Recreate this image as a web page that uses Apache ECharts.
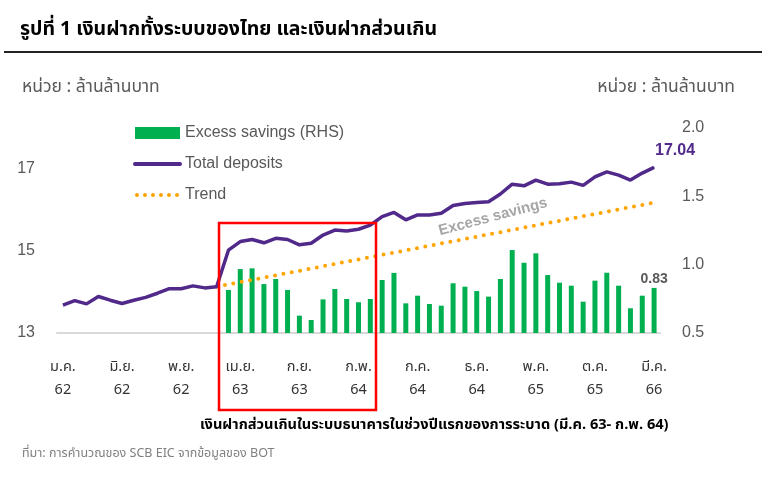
<!DOCTYPE html>
<html>
<head>
<meta charset="utf-8">
<script src="https://cdn.jsdelivr.net/npm/echarts@6/dist/echarts.min.js"></script>
<style>
html,body{margin:0;padding:0;background:#fff;}
#c{width:766px;height:479px;}
</style>
</head>
<body>
<div id="c"></div>
<script>
// Tick labels
var monthNames = ['ม.ค.','ก.พ.','มี.ค.','เม.ย.','พ.ค.','มิ.ย.','ก.ค.','ส.ค.','ก.ย.','ต.ค.','พ.ย.','ธ.ค.'];
var yearLabels = ['62','63','64','65','66'];
var lastYearMonths = 3; // data ends มี.ค. 66

// Total deposits (ล้านล้านบาท), monthly ม.ค. 62 – มี.ค. 66
var totalDeposits = [
  13.68, 13.79, 13.71, 13.89, 13.80, 13.72, 13.80, 13.87, 13.97, 14.08, 14.08, 14.15,
  14.10, 14.13, 15.02, 15.23, 15.28, 15.20, 15.31, 15.28, 15.15, 15.19, 15.39, 15.51,
  15.49, 15.53, 15.63, 15.84, 15.94, 15.76, 15.88, 15.88, 15.92, 16.11, 16.16, 16.18,
  16.20, 16.39, 16.63, 16.59, 16.73, 16.63, 16.64, 16.68, 16.60, 16.81, 16.93, 16.85,
  16.73, 16.90, 17.04
];

// Excess savings (RHS), from มี.ค. 63
var excessSavings = [
  null, null, null, null, null, null, null, null, null, null, null, null,
  null, null, 0.815, 0.968, 0.973, 0.858, 0.895, 0.815, 0.627, 0.595, 0.746, 0.822,
  0.749, 0.725, 0.749, 0.888, 0.940, 0.717, 0.773, 0.712, 0.700, 0.864, 0.839, 0.807,
  0.766, 0.895, 1.107, 1.014, 1.083, 0.924, 0.868, 0.846, 0.729, 0.883, 0.941, 0.846,
  0.681, 0.773, 0.83
];

// Trend line endpoints (ก.พ. 63 and มี.ค. 66)
var trend = [
  null, null, null, null, null, null, null, null, null, null, null, null,
  null, 14.13, null, null, null, null, null, null, null, null, null, null,
  null, null, null, null, null, null, null, null, null, null, null, null,
  null, null, null, null, null, null, null, null, null, null, null, null,
  null, null, 16.18
];

var categories = [];
yearLabels.forEach(function (y, yi) {
  var n = (yi === yearLabels.length - 1) ? lastYearMonths : 12;
  for (var m = 0; m < n; m++) categories.push(monthNames[m] + '\n' + y);
});

var thaiFont = "Tahoma, 'Noto Sans Thai', 'Liberation Sans', sans-serif";
var latinFont = "'Liberation Sans', Arial, sans-serif";
var PURPLE = '#50298A';
var GREEN = '#00B050';
var ORANGE = '#FFA500';

var lastIdx = totalDeposits.length - 1;
var depData = totalDeposits.map(function (v, i) {
  if (i === lastIdx) {
    return { value: v, symbol: 'circle', symbolSize: 1,
      label: { show: true, position: 'top', distance: 8, offset: [21, 0],
        formatter: function (p) { return Number(p.value).toFixed(2); },
        color: PURPLE, fontWeight: 'bold', fontSize: 16, fontFamily: latinFont } };
  }
  return v;
});
var exData = excessSavings.map(function (v, i) {
  if (i === lastIdx) {
    return { value: v, label: { show: true, position: 'top', distance: 2,
      formatter: function (p) { return Number(p.value).toFixed(2); },
      color: '#595959', fontWeight: 'bold', fontSize: 14, fontFamily: latinFont } };
  }
  return v;
});

var chart = echarts.init(document.getElementById('c'), null, { renderer: 'canvas' });
chart.setOption({
  animation: false,
  backgroundColor: '#ffffff',
  grid: { left: 57, right: 106, top: 128, bottom: 146, containLabel: false },
  legend: {
    orient: 'vertical', left: 133, top: 124, padding: 0, itemWidth: 45, itemHeight: 12, itemGap: 13,
    textStyle: { color: '#595959', fontSize: 16, fontFamily: latinFont, lineHeight: 18 },
    data: [
      { name: 'Excess savings (RHS)', icon: 'rect' },
      { name: 'Total deposits', itemStyle: { opacity: 0 },
        lineStyle: { color: PURPLE, width: 4, type: 'solid', cap: 'round' } },
      { name: 'Trend', itemStyle: { opacity: 0 },
        lineStyle: { color: ORANGE, width: 4, type: [0, 8], cap: 'round', dashOffset: -2 } }
    ]
  },
  xAxis: {
    type: 'category', data: categories, boundaryGap: true,
    axisLine: { show: true, lineStyle: { color: '#D9D9D9', width: 2 } },
    axisTick: { show: false },
    axisLabel: { interval: 4, color: '#333333', fontSize: 14.5, fontFamily: thaiFont, lineHeight: 23, margin: 24 }
  },
  yAxis: [
    { type: 'value', min: 13, max: 18, interval: 2, position: 'left',
      axisLine: { show: false }, axisTick: { show: false }, splitLine: { show: false },
      axisLabel: { color: '#595959', fontSize: 16, fontFamily: latinFont, margin: 22,
        formatter: function (v) { return v === 18 ? '' : String(v); } } },
    { type: 'value', min: 0.5, max: 2.0, interval: 0.5, position: 'right',
      axisLine: { show: false }, axisTick: { show: false }, splitLine: { show: false },
      axisLabel: { color: '#595959', fontSize: 16, fontFamily: latinFont, margin: 22,
        formatter: function (v) { return v.toFixed(1); } } }
  ],
  series: [
    { name: 'Excess savings (RHS)', type: 'bar', yAxisIndex: 1, data: exData, barWidth: 5,
      itemStyle: { color: GREEN }, z: 2 },
    { name: 'Trend', type: 'line', yAxisIndex: 0, data: trend, connectNulls: true, symbol: 'none',
      lineStyle: { color: ORANGE, width: 4, type: [0, 8.5], cap: 'round' }, itemStyle: { color: ORANGE }, z: 3 },
    { name: 'Total deposits', type: 'line', yAxisIndex: 0, data: depData, symbol: 'none',
      lineStyle: { color: PURPLE, width: 3.5 }, itemStyle: { color: PURPLE }, z: 4 }
  ],
  graphic: [
    { type: 'text', left: 20, top: 21, style: { text: 'รูปที่ 1 เงินฝากทั้งระบบของไทย และเงินฝากส่วนเกิน',
      fill: '#000', font: 'bold 19.5px ' + thaiFont } },
    { type: 'line', shape: { x1: 4, y1: 52, x2: 762, y2: 52 }, style: { stroke: '#222', lineWidth: 2 } },
    { type: 'text', left: 22, top: 79, style: { text: 'หน่วย : ล้านล้านบาท', fill: '#595959', font: '17.5px ' + thaiFont } },
    { type: 'text', right: 31, top: 79, style: { text: 'หน่วย : ล้านล้านบาท', fill: '#595959', font: '17.5px ' + thaiFont } },
    { type: 'text', x: 493, y: 217, rotation: 0.26,
      style: { text: 'Excess savings', fill: '#A6A6A6', font: 'bold 15px ' + latinFont, align: 'center', verticalAlign: 'middle' } },
    { type: 'rect', shape: { x: 219, y: 223, width: 157, height: 187 },
      style: { fill: 'none', stroke: '#FF0000', lineWidth: 2.5 }, z: 10 },
    { type: 'text', left: 200, top: 419, style: { text: 'เงินฝากส่วนเกินในระบบธนาคารในช่วงปีแรกของการระบาด (มี.ค. 63- ก.พ. 64)',
      fill: '#000', font: 'bold 14.6px ' + thaiFont } },
    { type: 'text', left: 22, top: 448, style: { text: 'ที่มา: การคำนวณของ SCB EIC จากข้อมูลของ BOT',
      fill: '#808080', font: '12.5px ' + thaiFont } }
  ]
});
</script>
</body>
</html>
